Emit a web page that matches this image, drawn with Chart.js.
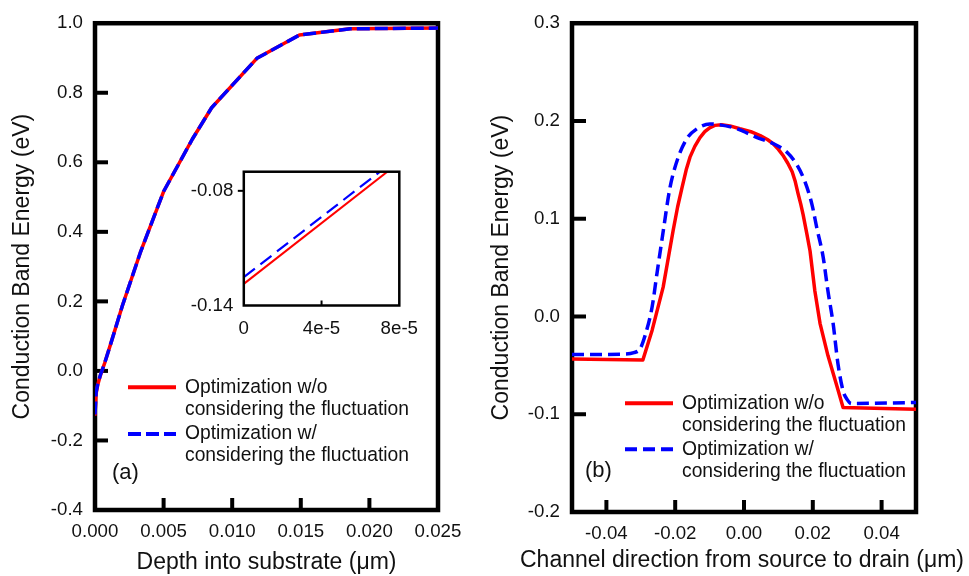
<!DOCTYPE html>
<html><head><meta charset="utf-8">
<script src="https://cdn.jsdelivr.net/npm/chart.js@4.4.1/dist/chart.umd.min.js"></script>
<style>
html,body{margin:0;padding:0;background:#fff;}
#wrap{position:relative;width:969px;height:576px;overflow:hidden;background:#fff;}
canvas{position:absolute;}
</style></head><body>
<div id="wrap">
<canvas id="ca" width="484" height="576" style="left:0;top:0"></canvas>
<canvas id="cb" width="485" height="576" style="left:484px;top:0"></canvas>
<canvas id="ci" width="280" height="200" style="left:150px;top:150px"></canvas>
</div>
<script>
// ---------- data ----------
const SERIES_LABELS = [
  ['Optimization w/o', 'considering the fluctuation'],
  ['Optimization w/', 'considering the fluctuation']
];
const PANEL_TAGS = ['(a)', '(b)'];
const AXIS_TITLES = {
  aX: 'Depth into substrate (\u03bcm)',
  bX: 'Channel direction from source to drain (\u03bcm)',
  y: 'Conduction Band Energy (eV)'
};

// panel (a): depth into substrate (um) vs conduction band energy (eV)
const DEPTH_X    = [0, 0.00008, 0.0002, 0.0004, 0.0007, 0.0012, 0.002, 0.0033, 0.005, 0.0071, 0.0085, 0.0118, 0.0149, 0.0186, 0.025];
const DEPTH_RED  = [-0.1287, -0.0651, -0.040, -0.012, 0.022, 0.085, 0.188, 0.340, 0.516, 0.667, 0.757, 0.899, 0.966, 0.984, 0.986];
const DEPTH_BLUE = [-0.1252, -0.0621, -0.038, -0.011, 0.022, 0.085, 0.188, 0.340, 0.516, 0.667, 0.757, 0.899, 0.966, 0.984, 0.986];

// panel (b): channel direction (um) vs conduction band energy (eV)
const CH_RED_X = [-0.05, -0.0294, -0.0267, -0.0235, -0.0206, -0.0193, -0.018, -0.0168, -0.0157, -0.0143, -0.0128, -0.0114, -0.0100, -0.0085, -0.0065, -0.0041, -0.0012, 0.0020, 0.0047, 0.0068, 0.0084, 0.0100, 0.0113, 0.0127, 0.0140, 0.0149, 0.0157, 0.0165, 0.0172, 0.0183, 0.0192, 0.0206, 0.0221, 0.0244, 0.0270, 0.0288, 0.05];
const CH_RED_Y = [-0.0435, -0.0445, -0.014, 0.030, 0.088, 0.112, 0.132, 0.150, 0.163, 0.174, 0.183, 0.189, 0.193, 0.1955, 0.1962, 0.195, 0.192, 0.189, 0.185, 0.181, 0.177, 0.171, 0.165, 0.157, 0.148, 0.138, 0.126, 0.115, 0.104, 0.084, 0.067, 0.026, -0.007, -0.040, -0.071, -0.093, -0.095];
const CH_BLUE_X = [-0.05, -0.035, -0.032, -0.0302, -0.0288, -0.0267, -0.0253, -0.0237, -0.0215, -0.0192, -0.0166, -0.0137, -0.0099, -0.0070, -0.0020, 0.0038, 0.0084, 0.0125, 0.0154, 0.0177, 0.0198, 0.0212, 0.0230, 0.0244, 0.0259, 0.0273, 0.0288, 0.0300, 0.0312, 0.05];
const CH_BLUE_Y = [-0.039, -0.0385, -0.037, -0.033, -0.020, 0.010, 0.044, 0.082, 0.132, 0.162, 0.182, 0.192, 0.197, 0.196, 0.192, 0.183, 0.177, 0.168, 0.155, 0.138, 0.114, 0.090, 0.061, 0.026, -0.007, -0.048, -0.076, -0.085, -0.089, -0.088];

// tick values and labels
const A_X_TICKS = [0, 0.005, 0.010, 0.015, 0.020, 0.025];
const A_X_LABELS = ['0.000', '0.005', '0.010', '0.015', '0.020', '0.025'];
const A_Y_TICKS = [-0.4, -0.2, 0, 0.2, 0.4, 0.6, 0.8, 1.0];
const A_Y_LABELS = ['-0.4', '-0.2', '0.0', '0.2', '0.4', '0.6', '0.8', '1.0'];
const B_X_TICKS = [-0.04, -0.02, 0, 0.02, 0.04];
const B_X_LABELS = ['-0.04', '-0.02', '0.00', '0.02', '0.04'];
const B_Y_TICKS = [-0.2, -0.1, 0, 0.1, 0.2, 0.3];
const B_Y_LABELS = ['-0.2', '-0.1', '0.0', '0.1', '0.2', '0.3'];
const IN_X_TICKS = [0, 4e-5, 8e-5];
const IN_X_LABELS = ['0', '4e-5', '8e-5'];
const IN_Y_TICKS = [-0.14, -0.08];
const IN_Y_LABELS = ['-0.14', '-0.08'];

// ---------- helpers ----------
const FONT = "'Liberation Sans', Arial, Helvetica, sans-serif";
Chart.defaults.font.family = FONT;
Chart.defaults.color = '#111';
const RED = '#ff0000', BLUE = '#0000ff';

function pts(xs, ys) { return xs.map((x, i) => ({ x: x, y: ys[i] })); }

function scale(min, max, ticks, labels, o) {
  return {
    type: 'linear', min: min, max: max,
    afterBuildTicks: s => { s.ticks = ticks.map(v => ({ value: v })); },
    afterFit: s => { if (s.isHorizontal()) s.height = o.size; else s.width = o.size; },
    grid: { display: false, drawTicks: false },
    border: { display: false },
    ticks: { autoSkip: false, maxRotation: 0, minRotation: 0, padding: o.pad, color: '#111',
             font: { size: o.font }, callback: (v, i) => labels[i] },
    title: o.title ? { display: true, text: o.title, color: '#111', font: { size: 23 },
                       padding: { top: o.tpad, bottom: 0 } } : { display: false }
  };
}

function framePlugin(o) {
  return {
    id: 'frame',
    beforeDatasetsDraw(chart) {
      const { ctx, chartArea: a, scales } = chart;
      ctx.save();
      ctx.strokeStyle = '#000';
      ctx.lineWidth = o.frame;
      ctx.strokeRect(a.left, a.top, a.right - a.left, a.bottom - a.top);
      ctx.lineWidth = o.tickW;
      ctx.lineCap = 'butt';
      scales.y.ticks.forEach(t => {
        const p = scales.y.getPixelForValue(t.value);
        if (Math.abs(p - a.top) < 2 || Math.abs(p - a.bottom) < 2) return;
        ctx.beginPath(); ctx.moveTo(a.left, p); ctx.lineTo(a.left + o.yLen, p); ctx.stroke();
      });
      scales.x.ticks.forEach(t => {
        const p = scales.x.getPixelForValue(t.value);
        if (Math.abs(p - a.left) < 2 || Math.abs(p - a.right) < 2) return;
        ctx.beginPath(); ctx.moveTo(p, a.bottom); ctx.lineTo(p, a.bottom - o.xLen); ctx.stroke();
      });
      ctx.restore();
    },
    afterDraw(chart) {
      // wide x-axis title (wider than the plot area, so drawn without width limit)
      if (!o.xTitle) return;
      const { ctx, chartArea: a } = chart;
      ctx.save();
      ctx.fillStyle = '#111';
      ctx.font = '23px ' + FONT;
      ctx.textAlign = 'center'; ctx.textBaseline = 'middle';
      ctx.fillText(o.xTitle, (a.left + a.right) / 2 + o.xTitleDx, o.xTitleY);
      ctx.restore();
    }
  };
}

function legendPlugin(o) {
  return {
    id: 'lgd',
    afterDatasetsDraw(chart) {
      const ctx = chart.ctx;
      ctx.save();
      chart.data.datasets.forEach((ds, i) => {
        const y = o.y0 + i * o.gap;
        ctx.strokeStyle = ds.borderColor;
        ctx.lineWidth = o.lw;
        ctx.setLineDash(ds.borderDash || []);
        ctx.beginPath(); ctx.moveTo(o.x0, y); ctx.lineTo(o.x0 + o.len, y); ctx.stroke();
        ctx.setLineDash([]);
        ctx.fillStyle = '#111';
        ctx.font = '19.3px ' + FONT;
        ctx.textAlign = 'left'; ctx.textBaseline = 'middle';
        SERIES_LABELS[i].forEach((t, j) => ctx.fillText(t, o.tx, y + j * o.lh));
      });
      ctx.font = '22px ' + FONT;
      ctx.fillText(o.tag, o.tagX, o.tagY);
      ctx.restore();
    }
  };
}

function lineDs(label, data, color, width, dash, order) {
  return { label: label, data: data, borderColor: color, backgroundColor: color, borderWidth: width,
           borderDash: dash, pointRadius: 0, tension: 0, fill: false, order: order,
           borderJoinStyle: 'round', borderCapStyle: 'butt' };
}

const common = { responsive: false, animation: false, events: [],
                 plugins: { legend: { display: false }, tooltip: { enabled: false } } };

// ---------- panel (a) ----------
new Chart(document.getElementById('ca'), {
  type: 'line',
  data: { datasets: [
    lineDs(SERIES_LABELS[0].join(' '), pts(DEPTH_X, DEPTH_RED), RED, 3.5, [], 2),
    lineDs(SERIES_LABELS[1].join(' '), pts(DEPTH_X, DEPTH_BLUE), BLUE, 3.5, [13, 5], 1)
  ]},
  options: Object.assign({}, common, {
    layout: { padding: { top: 18, right: 46, left: 0, bottom: 0 } },
    scales: {
      x: scale(0, 0.025, A_X_TICKS, A_X_LABELS, { size: 66, pad: 11, font: 18.7, title: AXIS_TITLES.aX, tpad: 2 }),
      y: scale(-0.4, 1.0, A_Y_TICKS, A_Y_LABELS, { size: 95, pad: 12, font: 18.7, title: AXIS_TITLES.y, tpad: 9 })
    }
  }),
  plugins: [framePlugin({ frame: 4.5, tickW: 4, yLen: 13, xLen: 12 }),
            legendPlugin({ x0: 128, len: 48, y0: 387.3, gap: 46.7, lh: 22, tx: 185, lw: 4,
                           tag: PANEL_TAGS[0], tagX: 112, tagY: 473 })]
});

// ---------- panel (b) ----------
new Chart(document.getElementById('cb'), {
  type: 'line',
  data: { datasets: [
    lineDs(SERIES_LABELS[0].join(' '), pts(CH_RED_X, CH_RED_Y), RED, 3.5, [], 2),
    Object.assign(lineDs(SERIES_LABELS[1].join(' '), pts(CH_BLUE_X, CH_BLUE_Y), BLUE, 3.5, [12, 6], 1),
                  { cubicInterpolationMode: 'monotone' })
  ]},
  options: Object.assign({}, common, {
    layout: { padding: { top: 17.5, right: 53, left: 0, bottom: 0 } },
    scales: {
      x: scale(-0.05, 0.05, B_X_TICKS, B_X_LABELS, { size: 64, pad: 11, font: 18.7 }),
      y: scale(-0.2, 0.3, B_Y_TICKS, B_Y_LABELS, { size: 88, pad: 12, font: 18.7, title: AXIS_TITLES.y, tpad: 4 })
    }
  }),
  plugins: [framePlugin({ frame: 4.5, tickW: 4, yLen: 14, xLen: 12,
                          xTitle: AXIS_TITLES.bX, xTitleDx: -2, xTitleY: 561 }),
            legendPlugin({ x0: 141, len: 48, y0: 403.3, gap: 46, lh: 22.4, tx: 198, lw: 4,
                           tag: PANEL_TAGS[1], tagX: 101, tagY: 471 })]
});

// ---------- inset of panel (a) ----------
new Chart(document.getElementById('ci'), {
  type: 'line',
  data: { datasets: [
    lineDs(SERIES_LABELS[0].join(' '), pts(DEPTH_X, DEPTH_RED), RED, 2, [], 2),
    lineDs(SERIES_LABELS[1].join(' '), pts(DEPTH_X, DEPTH_BLUE), BLUE, 2.2, [14, 7], 1)
  ]},
  options: Object.assign({}, common, {
    layout: { padding: { top: 14, right: 21.3, left: 0, bottom: 0 } },
    scales: {
      x: scale(0, 8e-5, IN_X_TICKS, IN_X_LABELS, { size: 44.5, pad: 12, font: 18.7 }),
      y: scale(-0.14, -0.07, IN_Y_TICKS, IN_Y_LABELS, { size: 93.8, pad: 10.5, font: 18.7 })
    }
  }),
  plugins: [{
    id: 'insetFrame',
    beforeDraw(chart) {
      const { ctx, chartArea: a } = chart;
      ctx.save(); ctx.fillStyle = '#fff';
      ctx.fillRect(a.left, a.top, a.right - a.left, a.bottom - a.top); ctx.restore();
    },
    afterDatasetsDraw(chart) {
      const { ctx, chartArea: a, scales } = chart;
      ctx.save(); ctx.strokeStyle = '#000'; ctx.lineWidth = 2.5;
      ctx.strokeRect(a.left, a.top, a.right - a.left, a.bottom - a.top);
      ctx.lineWidth = 2;
      scales.y.ticks.forEach(t => {
        const p = scales.y.getPixelForValue(t.value);
        if (Math.abs(p - a.bottom) < 2) return;
        ctx.beginPath(); ctx.moveTo(a.left, p); ctx.lineTo(a.left - 6, p); ctx.stroke();
      });
      scales.x.ticks.forEach(t => {
        const p = scales.x.getPixelForValue(t.value);
        if (Math.abs(p - a.left) < 2 || Math.abs(p - a.right) < 2) return;
        ctx.beginPath(); ctx.moveTo(p, a.bottom); ctx.lineTo(p, a.bottom - 5); ctx.stroke();
      });
      ctx.restore();
    }
  }]
});
</script>
</body></html>
